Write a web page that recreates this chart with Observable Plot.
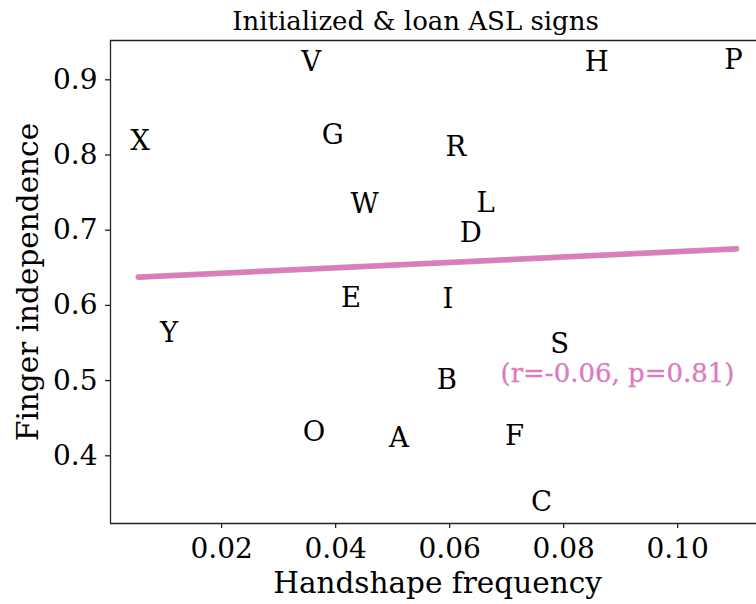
<!DOCTYPE html>
<html>
<head>
<meta charset="utf-8">
<script src="https://cdn.jsdelivr.net/npm/d3@7"></script>
<script src="https://cdn.jsdelivr.net/npm/@observablehq/plot@0.6"></script>
<style>
  html, body { margin: 0; padding: 0; background: #fff; }
  #chart svg { display: block; }
</style>
</head>
<body>
<div id="chart"></div>
<script>
// Handshape letters with their frequency and finger-independence score
const letters = ["V", "H", "P", "X", "G", "R", "W", "L", "D", "E", "I", "Y", "S", "B", "O", "A", "F", "C"];
const frequency = [0.0357, 0.0858, 0.1098, 0.0057, 0.0395, 0.0611, 0.0451, 0.0663, 0.0637, 0.0427, 0.0597, 0.0108, 0.0793, 0.0595, 0.0362, 0.0511, 0.0714, 0.0761];
const independence = [0.923, 0.923, 0.926, 0.819, 0.826, 0.810, 0.734, 0.736, 0.696, 0.609, 0.608, 0.563, 0.548, 0.500, 0.432, 0.423, 0.426, 0.338];

// Least-squares fit line, evaluated at the ends of the frequency range
const fitX = [0.0054, 0.1103];
const fitY = [0.6375, 0.6753];
const fitStats = "(r=-0.06, p=0.81)";

const xTicks = [0.02, 0.04, 0.06, 0.08, 0.10];
const yTicks = [0.4, 0.5, 0.6, 0.7, 0.8, 0.9];

const title = "Initialized & loan ASL signs";
const xLabel = "Handshape frequency";
const yLabel = "Finger independence";

const points = letters.map((s, i) => ({letter: s, x: frequency[i], y: independence[i]}));
const fit = fitX.map((x, i) => ({x, y: fitY[i]}));

const xDomain = [0.000508, 0.11383];
const yDomain = [0.30997, 0.95226];
const pink = "#e377c2";
const ink = "#222";
const serif = "DejaVu Serif";

const chart = Plot.plot({
  width: 756,
  height: 604,
  marginLeft: 110,
  marginRight: 0,
  marginTop: 40,
  marginBottom: 81,
  style: {fontFamily: serif, fontSize: "28px", background: "#fff", color: "#000", overflow: "visible"},
  x: {domain: xDomain, axis: null},
  y: {domain: yDomain, axis: null},
  marks: [
    // axes spines
    Plot.ruleX([xDomain[0]], {stroke: ink, strokeWidth: 1.3}),
    Plot.ruleY([yDomain[0], yDomain[1]], {stroke: ink, strokeWidth: 1.3}),
    Plot.axisX(xTicks, {
      anchor: "bottom", tickSize: 5, tickPadding: 10, stroke: ink, strokeWidth: 1.3,
      tickFormat: d3.format(".2f"), fontSize: 28, fill: "#000", label: null
    }),
    Plot.axisY(yTicks, {
      anchor: "left", tickSize: 5, tickPadding: 8, stroke: ink, strokeWidth: 1.3,
      tickFormat: d3.format(".1f"), fontSize: 28, fill: "#000", label: null
    }),
    // regression line with a grey outline
    Plot.line(fit, {x: "x", y: "y", stroke: "#a8a8a8", strokeWidth: 5.8}),
    Plot.line(fit, {x: "x", y: "y", stroke: pink, strokeWidth: 4.4}),
    // letters
    Plot.text(points, {x: "x", y: "y", text: "letter", fontSize: 27.5, fill: "#000", lineAnchor: "middle"}),
    // fit statistics
    Plot.text([fitStats], {
      frameAnchor: "top-left", dx: 507, dy: 333, text: d => d, textAnchor: "middle",
      lineAnchor: "middle", fontSize: 26, fill: pink, stroke: "#b0b0b0", strokeWidth: 0.4, paintOrder: "stroke"
    }),
    // title and axis labels
    Plot.text([title], {
      frameAnchor: "top-left", dx: 305, dy: -11, text: d => d, textAnchor: "middle",
      lineAnchor: "bottom", fontSize: 26, fill: "#000"
    }),
    Plot.text([xLabel], {
      frameAnchor: "bottom-left", dx: 327, dy: 69, text: d => d, textAnchor: "middle",
      lineAnchor: "bottom", fontSize: 29.5, fill: "#000"
    }),
    Plot.text([yLabel], {
      frameAnchor: "left", dx: -82, dy: 0, text: d => d, textAnchor: "middle",
      lineAnchor: "middle", rotate: -90, fontSize: 29.5, fill: "#000"
    })
  ]
});

document.getElementById("chart").appendChild(chart);
</script>
</body>
</html>
